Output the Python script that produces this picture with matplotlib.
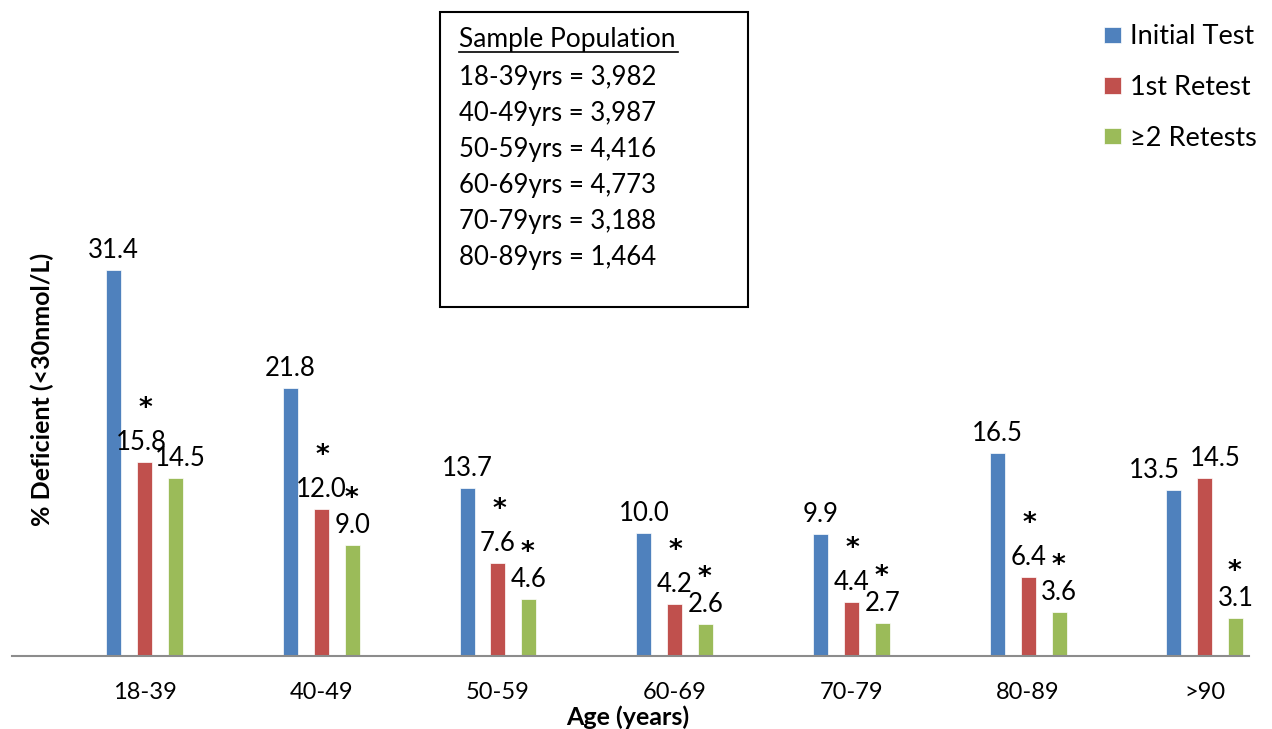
import matplotlib
matplotlib.use("Agg")
import matplotlib.pyplot as plt
import numpy as np

plt.rcParams['font.family'] = ['Lato', 'DejaVu Sans']

# data
age_groups = ["18-39", "40-49", "50-59", "60-69", "70-79", "80-89", ">90"]
initial_test = [31.4, 21.8, 13.7, 10.0, 9.9, 16.5, 13.5]
first_retest = [15.8, 12.0, 7.6, 4.2, 4.4, 6.4, 14.5]
two_retests = [14.5, 9.0, 4.6, 2.6, 2.7, 3.6, 3.1]
# significance markers
star_first = [True, True, True, True, True, True, False]
star_two = [False, True, True, True, True, True, True]

sample_lines = ["18-39yrs = 3,982", "40-49yrs = 3,987", "50-59yrs = 4,416",
                "60-69yrs = 4,773", "70-79yrs = 3,188", "80-89yrs = 1,464"]

series_names = ["Initial Test", "1st Retest", "\u22652 Retests"]
colors = ["#4F81BD", "#C0504D", "#9BBB59"]

W, H = 1272, 729
fig = plt.figure(figsize=(W / 100, H / 100), dpi=100)

px_per_unit = 12.29
ymax = 40
ax_bottom = 73
ax = fig.add_axes([12 / W, ax_bottom / H, (1249 - 12) / W, ymax * px_per_unit / H])

x = np.arange(len(age_groups))
width = 0.085
offset = 0.175

# a few labels were nudged sideways in the original to avoid collisions
label_nudge = {(0, 6): -20, (1, 6): 10, (1, 0): -3, (2, 0): 5}

bars = []
all_vals = [initial_test, first_retest, two_retests]
for i, (vals, col) in enumerate(zip(all_vals, colors)):
    b = ax.bar(x + (i - 1) * offset, vals, width, color=col, label=series_names[i],
               edgecolor="white", linewidth=0.5)
    bars.append(b)
    for j, (xi, v) in enumerate(zip(x + (i - 1) * offset, vals)):
        dx = label_nudge.get((i, j), 0)
        ax.annotate(f"{v:.1f}", (xi, v), xytext=(dx, 7), textcoords="offset pixels",
                    ha="center", va="bottom", fontsize=18.5, color="black")

# asterisks
for xi, v, s in zip(x, first_retest, star_first):
    if s:
        ax.annotate("*", (xi, v), xytext=(1, 40), textcoords="offset pixels",
                    ha="center", va="bottom", fontsize=19, fontweight="bold",
                    family="DejaVu Sans")
for xi, v, s in zip(x + offset, two_retests, star_two):
    if s:
        ax.annotate("*", (xi, v), xytext=(-1, 33), textcoords="offset pixels",
                    ha="center", va="bottom", fontsize=19, fontweight="bold",
                    family="DejaVu Sans")

ax.set_xlim(-0.75, 6.25)
ax.set_ylim(0, ymax)
ax.set_xticks(x)
ax.set_xticklabels(age_groups, fontsize=17)
ax.tick_params(axis="x", length=0, pad=19)
ax.set_yticks([])
for side in ["left", "right", "top"]:
    ax.spines[side].set_visible(False)
ax.spines["bottom"].set_color("#8c8c8c")
ax.spines["bottom"].set_linewidth(1.5)
ax.patch.set_visible(False)

fig.text(628 / W, 1 - 717 / H, "Age (years)", ha="center", va="center",
         fontsize=18, fontweight="bold")
fig.text(42 / W, 1 - 389 / H, "% Deficient (<30nmol/L)", ha="center", va="center",
         rotation=90, fontsize=18, fontweight="bold")

# sample population box
box = plt.Rectangle((440 / W, 1 - 307 / H), (748 - 440) / W, (307 - 12) / H,
                    transform=fig.transFigure, fill=False, edgecolor="black", linewidth=1.5)
fig.patches.append(box)
fig.text(459 / W, 1 - 40 / H, "Sample Population", ha="left", va="center", fontsize=19)
fig.lines.append(plt.Line2D([459 / W, 678 / W], [1 - 52 / H, 1 - 52 / H],
                            transform=fig.transFigure, color="black", linewidth=1.2))
for k, line in enumerate(sample_lines):
    fig.text(459 / W, 1 - (77 + 36 * k) / H, line, ha="left", va="center", fontsize=18.5)

fig.legend(handles=bars, labels=series_names, loc="upper left",
           bbox_to_anchor=(1080 / W, 1 - 0 / H), frameon=False, fontsize=19.5,
           handlelength=0.6, handleheight=0.55, handletextpad=0.35, labelspacing=0.95)

fig.savefig("out.png", dpi=100)
